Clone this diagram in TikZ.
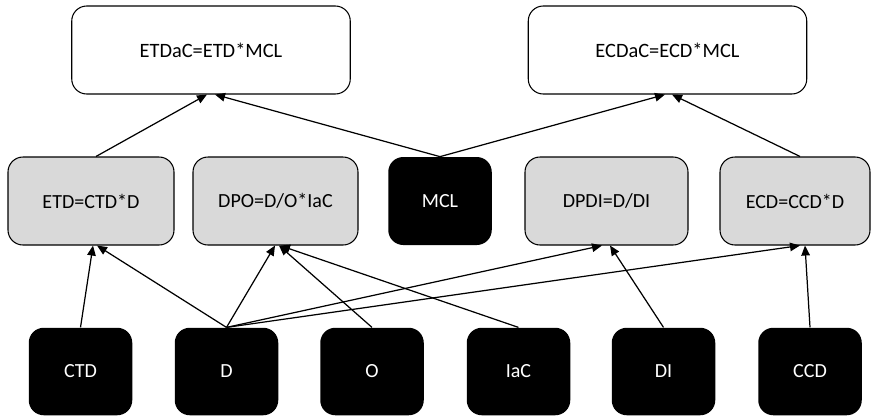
\documentclass[tikz,border=0pt]{standalone}
\usepackage{fontspec}
\setmainfont{Carlito}
\definecolor{boxgray}{RGB}{217,217,217}
\usetikzlibrary{arrows.meta}

\begin{document}
\begin{tikzpicture}[
  result/.style={draw, rounded corners=0.3cm, minimum width=5.57cm, minimum height=1.76cm, line width=0.6pt, font=\fontsize{11.6}{14}\selectfont},
  formula/.style={draw, fill=boxgray, rounded corners=0.3cm, minimum height=1.76cm, line width=0.6pt, font=\fontsize{11.4}{14}\selectfont},
  leaf/.style={fill=black, text=white, rounded corners=0.3cm, minimum width=2.07cm, minimum height=1.75cm, font=\fontsize{11.4}{14}\selectfont},
  link/.style={-{Triangle[length=0.2cm, width=0.17cm]}, line width=0.7pt}
]
  \useasboundingbox (0,0) rectangle (17.5,8.3);
  \clip (0,0) rectangle (17.5,8.3);

  \node[result] (etdac) at (4.22,7.3) {ETDaC=ETD*MCL};
  \node[result] (ecdac) at (13.35,7.3) {ECDaC=ECD*MCL};

  \node[formula, minimum width=3.32cm] (etd) at (1.82,4.28) {ETD=CTD*D};
  \node[formula, minimum width=3.3cm] (dpo) at (5.51,4.28) {DPO=D/O*IaC};
  \node[leaf, minimum height=1.76cm] (mcl) at (8.8,4.28) {MCL};
  \node[formula, minimum width=3.26cm] (dpdi) at (12.13,4.28) {DPDI=D/DI};
  \node[formula, minimum width=3.0cm] (ecd) at (15.9,4.28) {ECD=CCD*D};

  \node[leaf] (ctd) at (1.61,0.87) {CTD};
  \node[leaf] (d) at (4.53,0.87) {D};
  \node[leaf] (o) at (7.44,0.87) {O};
  \node[leaf] (iac) at (10.37,0.87) {IaC};
  \node[leaf] (di) at (13.27,0.87) {DI};
  \node[leaf] (ccd) at (16.2,0.87) {CCD};

  \draw[link] (ctd.north) -- ([xshift=0.04cm]etd.south);
  \draw[link] (d.north) -- ([xshift=0.12cm]etd.south);
  \draw[link] (d.north) -- ([xshift=-0.01cm]dpo.south);
  \draw[link] (o.north) -- ([xshift=0.07cm]dpo.south);
  \draw[link] (iac.north) -- ([xshift=0.09cm]dpo.south);
  \draw[link] (d.north) -- ([xshift=-0.09cm]dpdi.south);
  \draw[link] (di.north) -- ([xshift=0.07cm]dpdi.south);
  \draw[link] (d.north) -- ([xshift=0.1cm]ecd.south);
  \draw[link] (ccd.north) -- ([xshift=0.2cm]ecd.south);

  \draw[link] ([xshift=0.1cm]etd.north) -- ([xshift=-0.08cm]etdac.south);
  \draw[link] (mcl.north) -- ([xshift=0.08cm]etdac.south);
  \draw[link] (mcl.north) -- ([xshift=-0.05cm]ecdac.south);
  \draw[link] ([xshift=0.1cm]ecd.north) -- ([xshift=0.09cm]ecdac.south);
\end{tikzpicture}
\end{document}
